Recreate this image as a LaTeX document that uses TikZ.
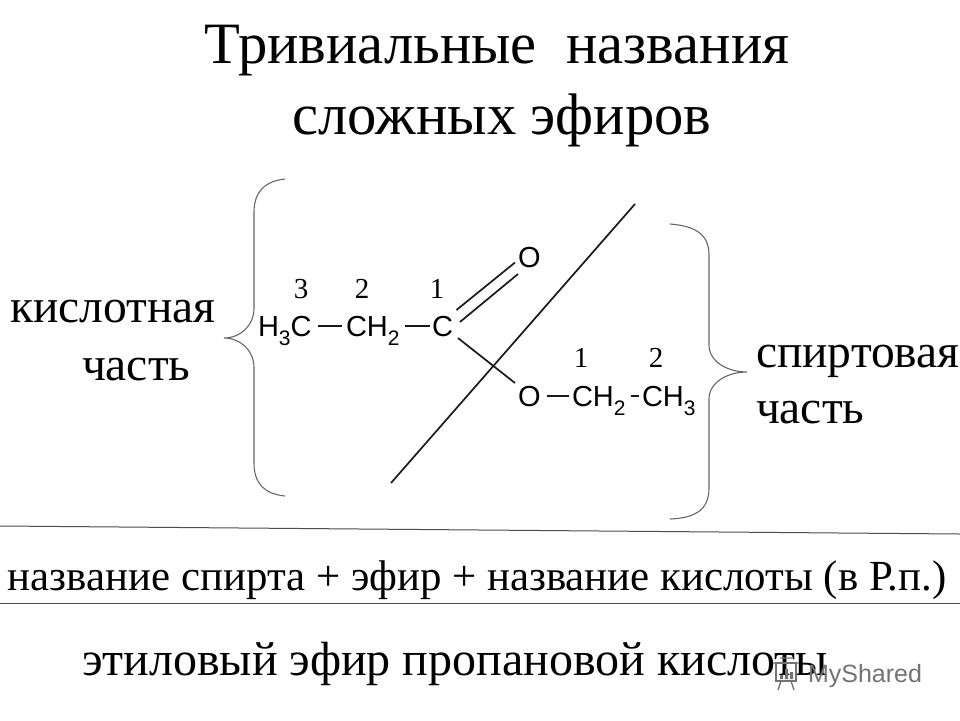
\documentclass[tikz,border=0pt]{standalone}
\usepackage{fontspec}
\setmainfont{Liberation Serif}
\newfontfamily\chemfont{Liberation Sans}
\newcommand{\lowidx}[1]{\raisebox{-0.33em}{\fontsize{21}{21}\selectfont #1}}

\begin{document}
\begin{tikzpicture}[
  x=1pt, y=-1pt,
  every node/.style={inner sep=0pt, outer sep=0pt},
  heading/.style={font=\fontsize{58.6}{58.6}\selectfont, anchor=base},
  sidetext/.style={font=\fontsize{47.5}{47.5}\selectfont, anchor=base west},
  formula/.style={font=\chemfont\fontsize{29}{29}\selectfont, anchor=base west},
  atomnum/.style={font=\fontsize{29}{29}\selectfont, anchor=base},
  bond/.style={line width=1.7pt, black!90},
  brace/.style={line width=1.1pt, black!60},
  rule/.style={line width=1pt, black!70}
]
\useasboundingbox (0,0) rectangle (960,720);

\node[heading] (title1) at (497,63) {Тривиальные\ \ названия};
\node[heading] (title2) at (502,134) {сложных эфиров};

\node[sidetext] (acid1) at (10,322) {кислотная};
\node[sidetext] (acid2) at (82,380) {часть};
\node[sidetext] (alc1) at (756,367) {спиртовая};
\node[sidetext] (alc2) at (756,423) {часть};
\node[sidetext, font=\fontsize{42.9}{42.9}\selectfont] (rule1) at (8,590) {название спирта + эфир + название кислоты (в Р.п.)};
\node[sidetext, font=\fontsize{48}{48}\selectfont] (name1) at (82,675) {этиловый эфир пропановой кислоты};

% acid part
\node[formula] (ch3a) at (258,336) {H\lowidx{3}C};
\node[formula] (ch2a) at (346,336) {CH\lowidx{2}};
\node[formula] (ca) at (432,336) {C};
\node[formula] (oa) at (518,267) {O};
% alcohol part
\node[formula] (ob) at (518,406) {O};
\node[formula] (ch2b) at (572,406) {CH\lowidx{2}};
\node[formula] (ch3b) at (642,406) {CH\lowidx{3}};

\node[atomnum] (n3) at (301,298) {3};
\node[atomnum] (n2) at (362,298) {2};
\node[atomnum] (n1) at (437,298) {1};
\node[atomnum] (m1) at (581,367) {1};
\node[atomnum] (m2) at (656,367) {2};

\draw[bond] ([xshift=-28pt,yshift=10pt]ch2a.base west) -- ([xshift=-4pt,yshift=10pt]ch2a.base west);
\draw[bond] ([xshift=5pt,yshift=10pt]ch2a.base east) -- ([xshift=-2pt,yshift=10pt]ca.base west);
\draw[bond] ([xshift=3.5pt,yshift=26pt]ca.base east) -- ([xshift=-3pt,yshift=-5.5pt]oa.west);
\draw[bond] ([xshift=7pt,yshift=14pt]ca.base east) -- ([xshift=0pt,yshift=-17pt]oa.west);
\draw[bond] ([xshift=5pt,yshift=-2pt]ca.base east) -- ([xshift=-3pt,yshift=13pt]ob.west);
\draw[bond] ([xshift=6pt]ob.east) -- ([xshift=-3pt]ch2b.base west |- ob.east);
\draw[bond] ([xshift=5pt]ch2b.base east |- ob.east) -- ([xshift=-3pt]ch3b.base west |- ob.east);

% cut through the ester
\coordinate (cuttop) at (635,204);
\coordinate (cutend) at (391,483);
\draw[bond] (cuttop) -- (cutend);

\draw[brace] (285,179) .. controls (265,181) and (254,192) .. (254,212) -- (254,308)
  .. controls (254,326) and (240,338) .. (224,338)
  .. controls (240,338) and (254,350) .. (254,368) -- (254,463)
  .. controls (254,484) and (265,494) .. (285,496);
\draw[brace] (670,224) .. controls (695,226) and (709,234) .. (709,255) -- (709,345)
  .. controls (709,362) and (728,372) .. (747,372)
  .. controls (728,372) and (709,382) .. (709,399) -- (709,488)
  .. controls (709,510) and (695,518) .. (670,519);

\draw[rule] (0,526) -- (960,534);
\draw[rule] (0,603) -- (960,603);

% watermark
\node[font=\chemfont\fontsize{25}{25}\selectfont, text=black!55, anchor=base west] (wmark) at (808,682) {MyShared};
\draw[line width=1.4pt, black!55] (776,663) rectangle (796,681);
\draw[line width=1.4pt, black!55] (780,658) -- (792,658) (773,663) -- (799,663) (781,681) -- (778,690) (791,681) -- (794,690);
\fill[black!55] (780,675) rectangle (783,679) (785,669) rectangle (788,679) (790,672) rectangle (793,679);
\end{tikzpicture}
\end{document}
